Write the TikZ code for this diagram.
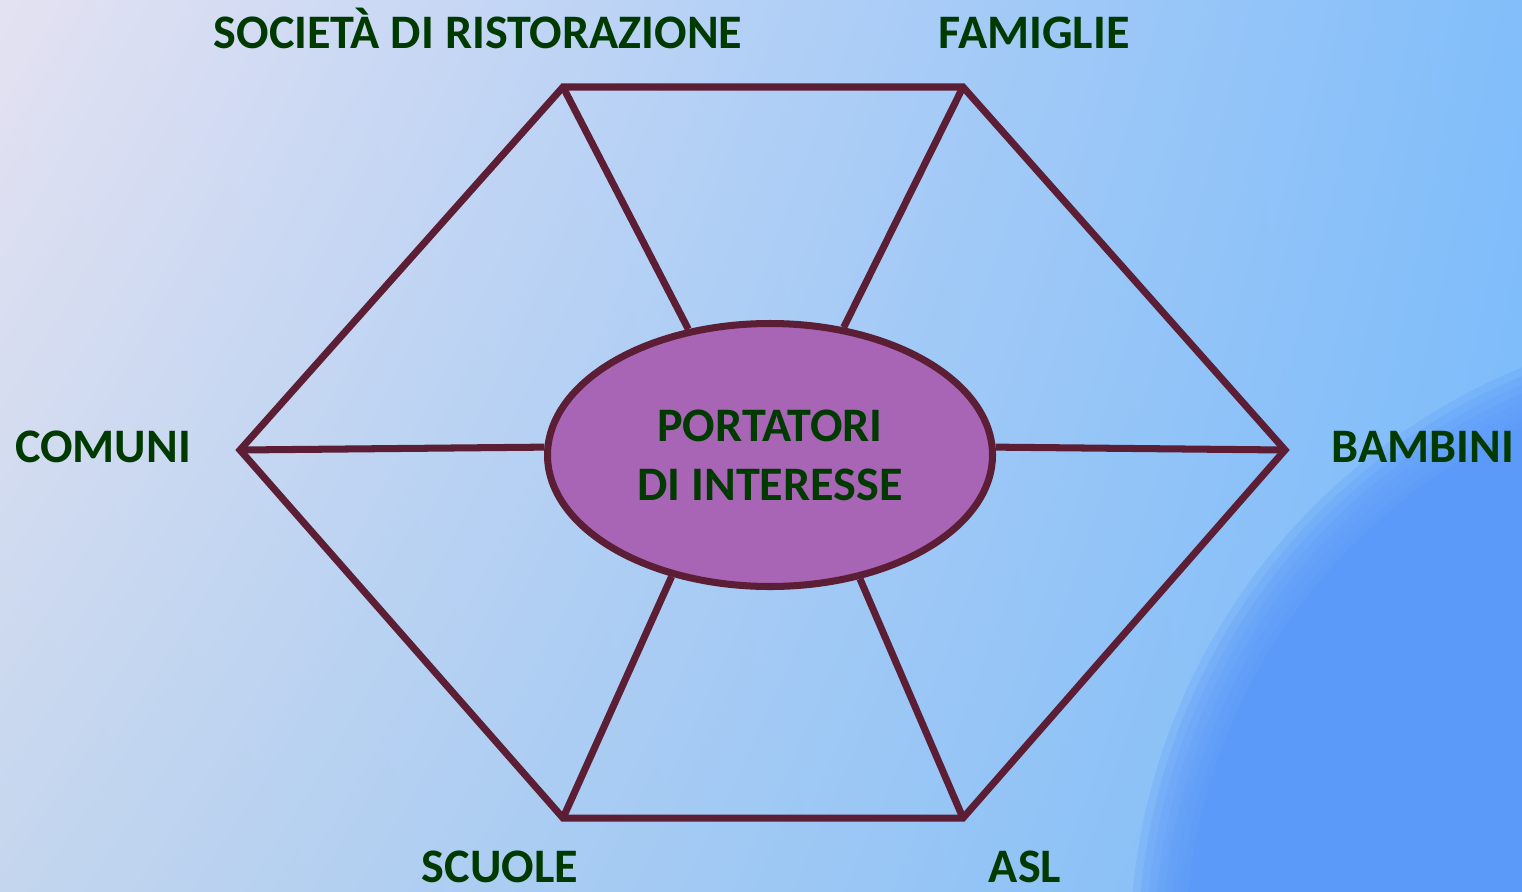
\documentclass[tikz,border=0pt]{standalone}
\usepackage{fontspec}
\usepackage{tkz-euclide}
\usetikzlibrary{shadings,shapes.geometric}
\setmainfont{Carlito}
\definecolor{bordo}{RGB}{92,30,52}
\definecolor{viola}{RGB}{168,101,181}
\definecolor{verdescuro}{RGB}{0,58,0}
\definecolor{sfondoA}{RGB}{228,226,242}
\definecolor{sfondoB}{RGB}{130,190,250}
\definecolor{sfondoC}{RGB}{196,214,238}
\definecolor{sfondoD}{RGB}{120,186,250}
\definecolor{macchia}{RGB}{92,154,250}
\tikzset{>=stealth,
  etichetta/.style={text=verdescuro, font=\fontsize{13.7}{16.8}\selectfont\bfseries, inner sep=0pt},
  raggio/.style={draw=bordo, line width=2pt}}

\begin{document}
\begin{tikzpicture}
    % sfondo
    \shade[upper left=sfondoA, upper right=sfondoB, lower left=sfondoC, lower right=sfondoD]
      (0,0) rectangle (15.22,8.91);
    \begin{scope}
      \clip (0,0) rectangle (15.22,8.91);
      \foreach \r in {6.3,6.22,...,5.8}
        \fill[macchia, opacity=0.25] (17.6,-0.6) circle (\r);
      \fill[macchia] (17.6,-0.6) circle (5.75);
    \end{scope}
    \useasboundingbox (0,0) rectangle (15.22,8.91);
    \tkzDefPoints{5.63/8.04/A, 9.63/8.04/B, 12.85/4.41/C, 9.63/0.73/D, 5.63/0.73/E, 2.40/4.41/F}
    \tkzDrawPolygon[raggio, line join=miter](A,B,C,D,E,F)
    \node[draw=bordo, line width=2pt, fill=viola, ellipse, minimum width=4.45cm, minimum height=2.63cm,
      inner sep=0pt, align=center, etichetta] (port) at (7.70,4.36) {PORTATORI\\DI INTERESSE};
    % raggi
    \draw[raggio] (A) -- (port.123);
    \draw[raggio] (B) -- (port.60);
    \draw[raggio] (C) -- (port.2);
    \draw[raggio] (D) -- (port.306);
    \draw[raggio] (E) -- (port.231.5);
    \draw[raggio] (F) -- (port.178);
    % etichette
    \node[etichetta, anchor=base] (soc) at (4.78,8.43) {SOCIETÀ DI RISTORAZIONE};
    \node[etichetta, anchor=base] (fam) at (10.34,8.43) {FAMIGLIE};
    \node[etichetta, anchor=base] (bam) at (14.23,4.29) {BAMBINI};
    \node[etichetta, anchor=base] (asl) at (10.25,0.09) {ASL};
    \node[etichetta, anchor=base] (scu) at (5.00,0.09) {SCUOLE};
    \node[etichetta, anchor=base] (com) at (1.03,4.29) {COMUNI};
\end{tikzpicture}
\end{document}
